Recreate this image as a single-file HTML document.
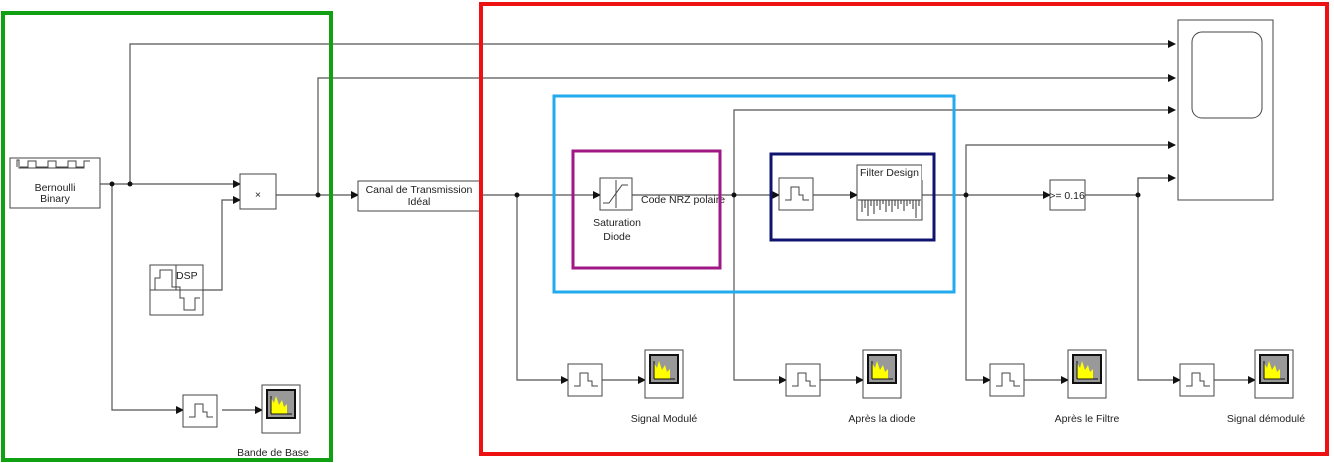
<!DOCTYPE html><html><head><meta charset="utf-8"><style>body{margin:0;background:#fff}svg{display:block}text{font-family:"Liberation Sans",sans-serif;font-size:10.5px;fill:#222}</style></head><body>
<svg width="1334" height="463" viewBox="0 0 1334 463">
<defs><marker id="a" markerWidth="8" markerHeight="8" refX="7" refY="4" orient="auto" markerUnits="userSpaceOnUse"><path d="M0,0L8,4L0,8z" fill="#111"/></marker>
<g id="pulse"><rect width="34" height="32" fill="#fff" stroke="#444"/><path d="M6,22H12V9H20V17H24V22H30" fill="none" stroke="#444"/></g>
<g id="sc"><rect width="38" height="48" fill="#fff" stroke="#444"/><rect x="5" y="5" width="28" height="28" fill="#999" stroke="#111" stroke-width="2"/><path d="M9,29V13L12,18L14,11L17,20L20,15L22,22L25,19V29z" fill="#ff0"/><path d="M9,29H30M9,29V11" stroke="#111"/></g></defs>
<g fill="none" stroke="#555" stroke-width="1.2">
<path d="M100,184H240" marker-end="url(#a)"/>
<path d="M130,184V44H1175" marker-end="url(#a)"/>
<path d="M112,184V410H183" marker-end="url(#a)"/>
<path d="M203,290H222V200H240" marker-end="url(#a)"/>
<path d="M276,195H358" marker-end="url(#a)"/>
<path d="M318,195V78H1175" marker-end="url(#a)"/>
<path d="M222,410H262" marker-end="url(#a)"/>
<path d="M480,195H600" marker-end="url(#a)"/>
<path d="M517,195V380H568" marker-end="url(#a)"/>
<path d="M602,380H645" marker-end="url(#a)"/>
<path d="M632,195H779" marker-end="url(#a)"/>
<path d="M734,195V110H1175" marker-end="url(#a)"/>
<path d="M734,195V380H786" marker-end="url(#a)"/>
<path d="M820,380H863" marker-end="url(#a)"/>
<path d="M813,195H857" marker-end="url(#a)"/>
<path d="M922,195H1050" marker-end="url(#a)"/>
<path d="M966,195V145H1175" marker-end="url(#a)"/>
<path d="M966,195V380H990" marker-end="url(#a)"/>
<path d="M1024,380H1068" marker-end="url(#a)"/>
<path d="M1085,195H1138V178H1175" marker-end="url(#a)"/>
<path d="M1138,195V380H1180" marker-end="url(#a)"/>
<path d="M1214,380H1255" marker-end="url(#a)"/>
</g>
<g fill="#111"><circle cx="112" cy="184" r="2.5"/><circle cx="130" cy="184" r="2.5"/><circle cx="318" cy="195" r="2.5"/><circle cx="517" cy="195" r="2.5"/><circle cx="734" cy="195" r="2.5"/><circle cx="966" cy="195" r="2.5"/><circle cx="1138" cy="195" r="2.5"/></g>
<g fill="#fff" stroke="#444">
<rect x="10" y="158" width="90" height="50"/>
<rect x="240" y="174" width="36" height="35"/>
<rect x="150" y="265" width="53" height="50"/>
<rect x="358" y="181" width="122" height="30"/>
<rect x="600" y="178" width="32" height="32"/>
<rect x="857" y="165" width="65" height="55"/>
<rect x="1050" y="180" width="35" height="30"/>
<rect x="1178" y="20" width="95" height="180"/>
<rect x="1192" y="32" width="70" height="86" rx="10"/>
</g>
<path d="M17,167V160H19V168H84V161H90" stroke="#444" fill="none"/>
<path d="M20,167H28V161H36V167H48V161H56V167H68V161H76V167H84" stroke="#444" fill="none"/>
<text x="55" y="191" text-anchor="middle" font-size="11">Bernoulli</text><text x="55" y="202" text-anchor="middle" font-size="11">Binary</text>
<text x="258" y="198" text-anchor="middle" font-size="13">×</text>
<path d="M150,290H203M176,265V290M155,290V278H160V270H172V287H180V298H184V310H195V298H200" stroke="#444" fill="none"/>
<text x="176" y="279" font-size="11">DSP</text>
<text x="419" y="193" text-anchor="middle" font-size="11">Canal de Transmission</text><text x="419" y="205" text-anchor="middle" font-size="11">Idéal</text>
<path d="M603,203H609L622,185H628M616,180V208" stroke="#444" fill="none"/>
<text x="617" y="226" text-anchor="middle" font-size="11">Saturation</text><text x="617" y="240" text-anchor="middle" font-size="11">Diode</text>
<text x="641" y="203">Code NRZ polaire</text>
<use href="#pulse" x="779" y="178"/>
<text x="860" y="176" font-size="11">Filter Design</text>
<path d="M858,200H921M862,200V212M865,200V208M868,200V216M871,200V206M874,200V214M877,200V206M880,200V210M883,200V204M886,200V212M889,200V206M892,200V212M895,200V206M898,200V209M901,200V204M904,200V211M907,200V206M910,200V204M913,200V209M916,200V218M919,200V206" stroke="#333" fill="none"/>
<rect x="922" y="160" width="10" height="20" fill="#fff"/>
<text x="1067" y="199" text-anchor="middle">&gt;= 0.16</text>
<use href="#pulse" x="183" y="395"/><use href="#sc" x="262" y="385"/><text x="273" y="456" text-anchor="middle">Bande de Base</text>
<use href="#pulse" x="568" y="364"/><use href="#sc" x="645" y="350"/><text x="664" y="422" text-anchor="middle">Signal Modulé</text>
<use href="#pulse" x="786" y="364"/><use href="#sc" x="863" y="350"/><text x="882" y="422" text-anchor="middle">Après la diode</text>
<use href="#pulse" x="990" y="364"/><use href="#sc" x="1068" y="350"/><text x="1087" y="422" text-anchor="middle">Après le Filtre</text>
<use href="#pulse" x="1180" y="364"/><use href="#sc" x="1255" y="350"/><text x="1266" y="422" text-anchor="middle">Signal démodulé</text>
<g fill="none">
<rect x="3" y="13" width="328" height="447" stroke="#11a011" stroke-width="4"/>
<rect x="481" y="4" width="846" height="450" stroke="#ee1111" stroke-width="4"/>
<rect x="554" y="96" width="400" height="196" stroke="#22aaee" stroke-width="3"/>
<rect x="573" y="151" width="147" height="117" stroke="#a01885" stroke-width="3"/>
<rect x="771" y="154" width="163" height="86" stroke="#101470" stroke-width="3"/>
</g>
</svg></body></html>
